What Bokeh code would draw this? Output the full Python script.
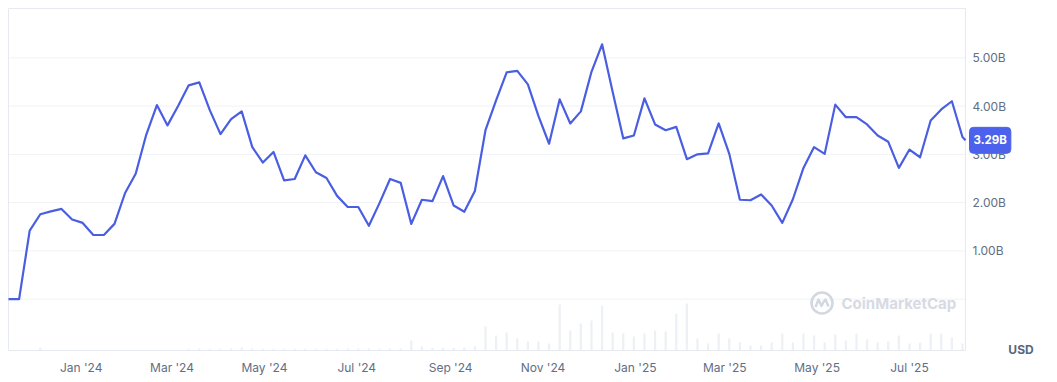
import pandas as pd
from bokeh.plotting import figure
from bokeh.models import (Range1d, FixedTicker, DatetimeTickFormatter, Label)
from bokeh.core.properties import value
from bokeh.embed import file_html
from bokeh.resources import INLINE

# ---------------- data ----------------
week_dates = pd.date_range("2023-11-14", periods=91, freq="7D")
last_date = pd.Timestamp("2025-08-07")

market_cap_b = [
    0.00, 0.00, 1.42, 1.76, 1.82, 1.87, 1.65, 1.58, 1.33, 1.33, 1.56, 2.20, 2.60, 3.41,
    4.02, 3.60, 4.00, 4.43, 4.49, 3.91, 3.42, 3.73, 3.89, 3.15, 2.83, 3.05,
    2.46, 2.49, 2.98, 2.63, 2.51, 2.14, 1.91, 1.91, 1.52, 1.99, 2.49, 2.41, 1.56,
    2.06, 2.03, 2.55, 1.94, 1.81, 2.24, 3.50, 4.12, 4.70, 4.73, 4.45, 3.79, 3.22,
    4.14, 3.64, 3.89, 4.71, 5.28, 4.29, 3.33, 3.39, 4.16, 3.62, 3.50, 3.57,
    2.90, 3.00, 3.02, 3.64, 3.01, 2.06, 2.05, 2.17, 1.94, 1.58, 2.07, 2.72, 3.15,
    3.01, 4.03, 3.77, 3.77, 3.62, 3.39, 3.26, 2.72, 3.10, 2.94, 3.70, 3.93, 4.10, 3.36,
]
last_value_b = 3.29

volume_b = [
    0.000, 0.000, 0.005, 0.030, 0.005, 0.005, 0.005, 0.005, 0.005, 0.005, 0.005,
    0.005, 0.005, 0.005, 0.005, 0.005, 0.005, 0.015, 0.020, 0.015, 0.015, 0.020,
    0.030, 0.020, 0.015, 0.015, 0.015, 0.015, 0.015, 0.015, 0.015, 0.015, 0.020,
    0.020, 0.020, 0.020, 0.020, 0.020, 0.100, 0.040, 0.025, 0.025, 0.025, 0.030,
    0.040, 0.240, 0.150, 0.180, 0.120, 0.090, 0.090, 0.070, 0.460, 0.200, 0.270,
    0.300, 0.450, 0.180, 0.170, 0.140, 0.170, 0.200, 0.190, 0.370, 0.470, 0.120,
    0.070, 0.170, 0.120, 0.080, 0.050, 0.050, 0.080, 0.170, 0.080, 0.170, 0.150,
    0.080, 0.160, 0.100, 0.170, 0.110, 0.080, 0.090, 0.150, 0.070, 0.080, 0.170,
    0.170, 0.130, 0.070,
]

y_ticks = [0, 1, 2, 3, 4, 5]
y_tick_labels = ["", "1.00B", "2.00B", "3.00B", "4.00B", "5.00B"]
month_ticks = ["2024-01-01", "2024-03-01", "2024-05-01", "2024-07-01", "2024-09-01",
               "2024-11-01", "2025-01-01", "2025-03-01", "2025-05-01", "2025-07-01"]
currency_label = "USD"
watermark_text = "CoinMarketCap"

# ---------------- styling / layout ----------------
LINE_BLUE = "#4a5ee2"
TAG_BLUE = "#4c62ec"
GRID = "#eff2f5"
BORDER = "#e6e9ee"
LABEL_GRAY = "#616e85"
FONT = "Inter"

W, H = 1049, 380
FRAME_H = 357              # frame covers the canvas down to this pixel row
DATA_LEFT_PX, DATA_RIGHT_PX = 8, 965
DATA_TOP_PX, DATA_BOTTOM_PX = 8, 350
ZERO_PX, PX_PER_B = 298.7, 48.28
VOL_PX_PER_UNIT = 100.0


def to_ms(ts):
    return pd.Timestamp(ts).value / 1e6


X0_MS, X1_MS = to_ms(week_dates[0]), to_ms(last_date)
MS_PER_PX = (X1_MS - X0_MS) / (DATA_RIGHT_PX - DATA_LEFT_PX)


def px_to_x(px):
    return X0_MS + (px - DATA_LEFT_PX) * MS_PER_PX


def py_to_y(py):
    return (ZERO_PX - py) / PX_PER_B


p = figure(width=W, height=H, x_axis_type="datetime",
           x_range=Range1d(px_to_x(0), px_to_x(W)),
           y_range=Range1d(py_to_y(FRAME_H), py_to_y(0)),
           y_axis_location=None, output_backend="svg", toolbar_location=None,
           min_border_left=0, min_border_top=0, min_border_right=0,
           min_border_bottom=H - FRAME_H)

p.extra_y_ranges = {"vol": Range1d(-(FRAME_H - DATA_BOTTOM_PX) / VOL_PX_PER_UNIT,
                                   DATA_BOTTOM_PX / VOL_PX_PER_UNIT)}

p.background_fill_color = "white"
p.border_fill_color = "white"
p.outline_line_color = None
p.xgrid.grid_line_color = None
p.ygrid.grid_line_color = None

all_dates = list(week_dates) + [last_date]
all_values = market_cap_b + [last_value_b]

# horizontal gridlines (only across the data area)
p.segment(x0=[week_dates[0]] * len(y_ticks), x1=[last_date] * len(y_ticks),
          y0=y_ticks, y1=y_ticks, line_color=GRID, line_width=1)

# volume bars
day_ms = 24 * 3600 * 1000
p.vbar(x=week_dates, top=volume_b, width=1.5 * day_ms, y_range_name="vol",
       fill_color="#edf0f4", line_color=None)

# data-area border
p.quad(left=[week_dates[0]], right=[last_date], top=[py_to_y(DATA_TOP_PX)],
       bottom=[py_to_y(DATA_BOTTOM_PX)], fill_color=None, line_color=BORDER,
       line_width=1)

# market cap line
p.line(all_dates, all_values, line_color=LINE_BLUE, line_width=2.2,
       line_join="round")

# y tick labels on the right of the data area
p.text(x=[last_date] * (len(y_ticks) - 1), y=y_ticks[1:], text=y_tick_labels[1:],
       x_offset=7, text_align="left", text_baseline="middle",
       text_font=value(FONT), text_font_size="12px", text_color=LABEL_GRAY)

# x axis
xa = p.xaxis[0]
xa.ticker = FixedTicker(ticks=[to_ms(d) for d in month_ticks])
fmt = "%b '%y"
xa.formatter = DatetimeTickFormatter(milliseconds=fmt, seconds=fmt, minsec=fmt,
                                     minutes=fmt, hourmin=fmt, hours=fmt, days=fmt,
                                     months=fmt, years=fmt)
xa.axis_line_color = None
xa.major_tick_line_color = None
xa.minor_tick_line_color = None
xa.major_tick_out = 0
xa.major_tick_in = 0
xa.major_label_standoff = 2
xa.major_label_text_color = LABEL_GRAY
xa.major_label_text_font = FONT
xa.major_label_text_font_size = "12px"

# watermark logo (ring + wave) and text
cx_px, cy_px = 821.5, 302.5
WM = "#d3d8e0"
p.scatter([px_to_x(cx_px)], [py_to_y(cy_px)], marker="circle", size=21,
          fill_color=None, line_color=WM, line_width=2.6)
wave_dx = [-6.5, -3.5, -0.5, 1.5, 3.5, 6.5]
wave_dy = [4.0, -3.5, 3.0, -1.0, -3.5, 3.5]
p.line([px_to_x(cx_px + d) for d in wave_dx],
       [py_to_y(cy_px + d) for d in wave_dy],
       line_color=WM, line_width=2.4, line_join="round")
p.add_layout(Label(x=841, y=FRAME_H - 303, x_units="screen", y_units="screen",
                   text=watermark_text, text_font=FONT, text_font_size="15px",
                   text_font_style="bold", text_color="#d6dbe3",
                   text_baseline="middle", text_align="left"))

# last-value tag
p.add_layout(Label(x=last_date, y=last_value_b, x_offset=4,
                   text=f"{last_value_b:.2f}B", text_font=FONT,
                   text_font_size="11.5px", text_font_style="bold",
                   text_color="white", text_align="left",
                   text_baseline="middle", background_fill_color=TAG_BLUE,
                   border_line_color=TAG_BLUE, padding=(4, 6), border_radius=4))

# currency label
p.add_layout(Label(x=1020.5, y=FRAME_H - 349, x_units="screen", y_units="screen",
                   text=currency_label, text_font=FONT, text_font_size="12px",
                   text_font_style="bold", text_color="#58667e",
                   text_align="center", text_baseline="middle"))

open("out.html", "w").write(file_html(p, INLINE))
